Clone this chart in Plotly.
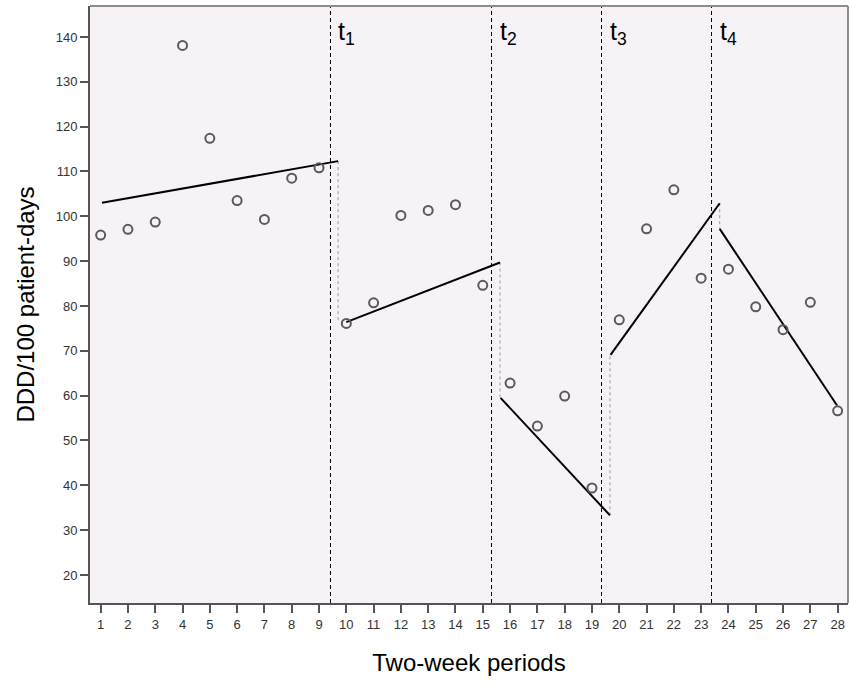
import plotly.graph_objects as go

# ---- data ----
periods = list(range(1, 29))
ddd = [95.8, 97.1, 98.7, 138.1, 117.4, 103.5, 99.3, 108.5, 110.8,
       76.1, 80.7, 100.2, 101.3, 102.6, 84.6,
       62.8, 53.2, 59.9, 39.4,
       76.9, 97.2, 105.9, 86.2,
       88.2, 79.8, 74.7, 80.8, 56.6]

interruptions = [9.42, 15.32, 19.35, 23.38]
interruption_labels = ["1", "2", "3", "4"]

seg_x_start = [1.05, 10.0, 15.65, 19.68, 23.68]
seg_x_end = [9.70, 15.63, 19.66, 23.68, 27.98]
seg_y_start = [103.0, 76.4, 59.5, 69.1, 97.2]
seg_y_end = [112.3, 89.7, 33.3, 102.9, 57.8]

y_ticks = [20, 30, 40, 50, 60, 70, 80, 90, 100, 110, 120, 130, 140]

fig = go.Figure()

# dotted connectors between segments
for i in range(len(seg_x_end) - 1):
    fig.add_trace(go.Scatter(
        x=[seg_x_end[i], seg_x_end[i]],
        y=[seg_y_end[i], seg_y_start[i + 1]],
        mode="lines", line=dict(color="#9a9a9a", width=1, dash="dot"),
        hoverinfo="skip", showlegend=False))

# fitted segments
for xs, xe, ys, ye in zip(seg_x_start, seg_x_end, seg_y_start, seg_y_end):
    fig.add_trace(go.Scatter(
        x=[xs, xe], y=[ys, ye], mode="lines",
        line=dict(color="black", width=2), showlegend=False))

# observed points
fig.add_trace(go.Scatter(
    x=periods, y=ddd, mode="markers",
    marker=dict(symbol="circle-open", size=9, color="#5a5a5a",
                line=dict(width=2, color="#5a5a5a")),
    showlegend=False))

# dashed interruption lines + labels
for xv, lab in zip(interruptions, interruption_labels):
    fig.add_shape(type="line", xref="x", yref="paper", x0=xv, x1=xv, y0=0, y1=1,
                  line=dict(color="black", width=1, dash="4px,3px"))
    fig.add_annotation(x=xv, xref="x", y=1, yref="paper", xanchor="left", yanchor="top",
                       xshift=6, yshift=-9, showarrow=False,
                       text="t<sub>" + lab + "</sub>",
                       font=dict(family="Liberation Sans, Arial", size=25, color="black"))

# top / right frame
fig.add_shape(type="line", xref="paper", yref="paper", x0=0, x1=1, y0=1, y1=1,
              line=dict(color="#8c8c8c", width=2))
fig.add_shape(type="line", xref="paper", yref="paper", x0=1, x1=1, y0=0, y1=1,
              line=dict(color="#8c8c8c", width=2))

fig.update_layout(
    width=850, height=687,
    margin=dict(l=90, r=2, t=6, b=84, autoexpand=False),
    paper_bgcolor="white",
    plot_bgcolor="#F6F2F6",
    font=dict(family="Liberation Sans, Arial", color="#333333"),
    showlegend=False,
)
fig.update_xaxes(
    range=[0.61, 28.38], tickmode="array", tickvals=periods,
    ticktext=[str(p) for p in periods],
    showgrid=False, zeroline=False, automargin=False,
    showline=True, linecolor="#555555", linewidth=2,
    ticks="outside", ticklen=8, tickwidth=2, tickcolor="#555555",
    tickfont=dict(size=13, color="#333333"),
    title=dict(text="Two-week periods", standoff=24,
               font=dict(size=24, color="black")),
)
fig.update_yaxes(
    range=[13.75, 146.9], tickmode="array", tickvals=y_ticks,
    showgrid=False, zeroline=False, automargin=False,
    showline=True, linecolor="#555555", linewidth=2,
    ticks="outside", ticklen=8, tickwidth=2, tickcolor="#555555",
    tickfont=dict(size=13, color="#333333"),
    title=dict(text="DDD/100 patient-days", standoff=14,
               font=dict(size=24, color="black")),
)

fig.write_html("out.html", config={"displayModeBar": False},
               post_script="document.body.style.margin='0';document.body.style.padding='0';document.documentElement.style.overflow='hidden';")
